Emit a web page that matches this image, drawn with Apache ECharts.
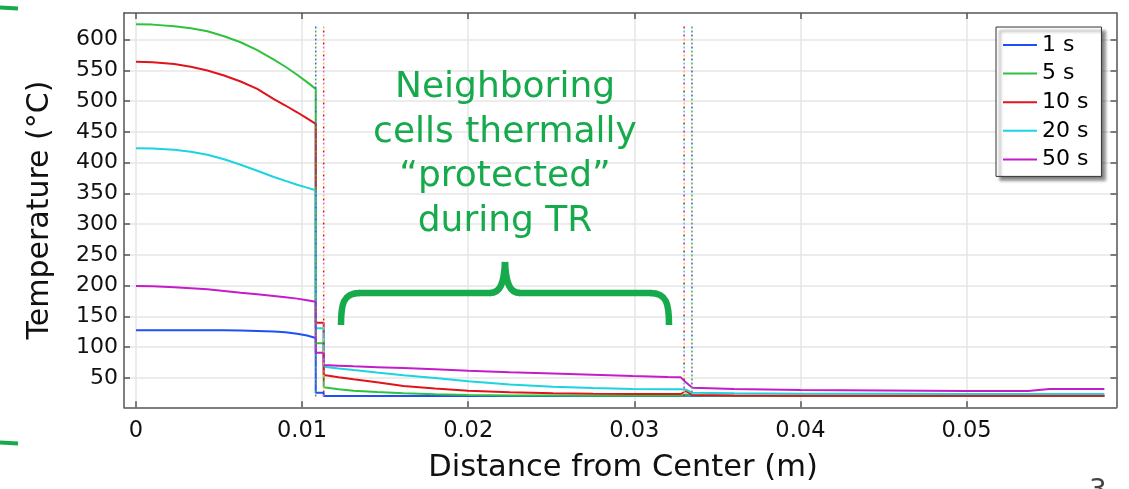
<!DOCTYPE html>
<html>
<head>
<meta charset="utf-8">
<script src="https://cdn.jsdelivr.net/npm/echarts@6/dist/echarts.min.js"></script>
<style>
html,body{margin:0;padding:0;background:#fff;}
#c{width:1129px;height:489px;}
</style>
</head>
<body>
<div id="c"></div>
<script>
// ---- data ----
const xs = [0, 0.001, 0.0023, 0.0033, 0.0043, 0.0053, 0.0063, 0.0073, 0.0083, 0.009, 0.0097, 0.0103, 0.01082,
  0.01082, 0.0113,
  0.0113, 0.0122, 0.0131, 0.0145, 0.0161, 0.018, 0.02, 0.0225, 0.0251, 0.0275, 0.0299, 0.032, 0.0328,
  0.0331, 0.0332, 0.0335, 0.036, 0.04, 0.045, 0.05, 0.0537, 0.055, 0.0583];

const t1s = [127.6, 127.6, 127.6, 127.6, 127.6, 127.5, 127.2, 126.5, 125.5, 124.2, 122, 119, 115.1,
  26, 26,
  20.6, 20.6, 20.6, 20.6, 20.6, 20.6, 20.6, 20.6, 20.6, 20.6, 20.6, 20.6, 20.6,
  21.5, 21.2, 20.6, 20.6, 20.6, 20.6, 20.6, 20.6, 20.6, 20.6];

const t5s = [625, 624.5, 621.8, 618.5, 613.6, 605.5, 595.8, 583, 567.5, 556, 543, 531, 520,
  106.3, 106.3,
  34.8, 31.8, 29.3, 27, 25, 23.4, 22.2, 21.6, 21.3, 21.1, 21.1, 21.1, 21.1,
  23, 22.2, 21.5, 21.2, 21.1, 21.1, 21.1, 21.1, 21.1, 21.1];

const t10s = [564, 563.3, 560.4, 556, 550, 541.8, 532, 520, 503.5, 493, 482, 472, 463,
  139.8, 139.8,
  54.8, 51.2, 47.8, 43, 36.9, 32.8, 29.3, 26.8, 25, 24.3, 23.9, 23.9, 23.9,
  28.8, 27.5, 22.2, 21.5, 21.2, 21.1, 21.1, 21.1, 21.1, 21.1];

const t20s = [423.4, 423, 421.1, 417.8, 413, 405.5, 396.7, 387, 376.7, 370.5, 364.2, 359.5, 355.1,
  130.7, 130.7,
  68.3, 65.5, 62.8, 58.8, 54.5, 50, 44.5, 39.5, 35.8, 33.5, 32.2, 31.6, 31.5,
  31, 29, 26, 25, 24.5, 24.2, 24, 24, 24, 24];

const t50s = [199.5, 199.2, 197.4, 196, 194.1, 191.5, 188.6, 186, 183.3, 181.2, 179, 176.5, 174,
  91.1, 91.1,
  71, 70, 69, 67.6, 66, 64, 61.8, 59.4, 57.2, 55.2, 53.2, 51.6, 51,
  43, 42.5, 34.2, 32, 30.4, 29.5, 28.8, 28.8, 32, 32];

const seriesNames = ['1 s', '5 s', '10 s', '20 s', '50 s'];
const seriesValues = [t1s, t5s, t10s, t20s, t50s];
const seriesColors = ['#1f4ff5', '#2fc23f', '#e0141a', '#1ad4e0', '#c41cc8'];

// dotted interface lines
const dotX = [0.01082, 0.0113, 0.0330, 0.03347];
const dotRange = [20, 624];
const dotColors = [
  ['#7a7a7a', '#3a5ef0', '#2fc23f'],
  ['#e060e0', '#e8c030', '#e0141a'],
  ['#e0141a', '#1ad4e0', '#c41cc8', '#e8c030'],
  ['#3a5ef0', '#2fc23f', '#7a7a7a']
];

const xTicks = [0, 0.01, 0.02, 0.03, 0.04, 0.05];
const yTicks = [50, 100, 150, 200, 250, 300, 350, 400, 450, 500, 550, 600];
const xRange = [-0.000722, 0.05903];
const yRange = [2.3, 643.4];

const annotLines = ['Neighboring', 'cells thermally', '\u201Cprotected\u201D', 'during TR'];
const xTitle = 'Distance from Center (m)';
const yTitle = 'Temperature (\u00B0C)';

// ---- chart ----
const chart = echarts.init(document.getElementById('c'), null, {renderer: 'canvas'});
const green = '#16aa4c';
const axisCol = '#555';
const font = 'DejaVu Sans';

const series = seriesNames.map((n, k) => ({
  name: n, type: 'line', xAxisIndex: 0, yAxisIndex: 0,
  data: xs.map((x, i) => [x, seriesValues[k][i]]),
  symbol: 'none', showSymbol: false,
  lineStyle: {color: seriesColors[k], width: 2},
  itemStyle: {color: seriesColors[k]},
  z: 3 + k
}));
dotX.forEach((x, j) => {
  const cols = dotColors[j];
  cols.forEach((c, m) => {
    series.push({
      type: 'line', xAxisIndex: 0, yAxisIndex: 0, silent: true,
      data: [[x, dotRange[0]], [x, dotRange[1]]],
      symbol: 'none',
      lineStyle: {color: c, width: 1.5, type: [2, 4 * cols.length - 2], dashOffset: m * 4},
      z: 10
    });
  });
});

const annotGraphics = annotLines.map((t, i) => ({
  type: 'text', x: 505, y: 88 + i * 44.4,
  style: {text: t, fill: green, font: '36px "DejaVu Sans"', textAlign: 'center', textVerticalAlign: 'middle'},
  z: 20
}));

const braceStyle = {stroke: green, lineWidth: 6.5, fill: null};
const braceGraphics = [
  {type: 'bezierCurve', shape: {x1: 341, y1: 325, cpx1: 341, cpy1: 304, cpx2: 343, cpy2: 293, x2: 360, y2: 293}, style: braceStyle, z: 20},
  {type: 'line', shape: {x1: 359, y1: 293, x2: 491, y2: 293}, style: braceStyle, z: 20},
  {type: 'bezierCurve', shape: {x1: 490, y1: 293, cpx1: 500, cpy1: 293, cpx2: 504, cpy2: 284, x2: 505, y2: 262}, style: braceStyle, z: 20},
  {type: 'bezierCurve', shape: {x1: 520, y1: 293, cpx1: 510, cpy1: 293, cpx2: 506, cpy2: 284, x2: 505, y2: 262}, style: braceStyle, z: 20},
  {type: 'line', shape: {x1: 519, y1: 293, x2: 651, y2: 293}, style: braceStyle, z: 20},
  {type: 'bezierCurve', shape: {x1: 669, y1: 325, cpx1: 669, cpy1: 304, cpx2: 667, cpy2: 293, x2: 650, y2: 293}, style: braceStyle, z: 20}
];

chart.setOption({
  animation: false,
  backgroundColor: '#fff',
  grid: {left: 124, right: 12.5, top: 13, bottom: 81.7, show: false},
  legend: {
    data: seriesNames, orient: 'vertical', left: 996, top: 27,
    padding: [7, 13, 6, 7], itemWidth: 34, itemHeight: 2, itemGap: 6.6, icon: 'rect',
    backgroundColor: '#fff', borderColor: '#333', borderWidth: 1,
    shadowColor: 'rgba(0,0,0,0.55)', shadowBlur: 3, shadowOffsetX: 4, shadowOffsetY: 4,
    textStyle: {fontFamily: font, fontSize: 22, color: '#000', lineHeight: 22},
    selectedMode: false
  },
  xAxis: [{
    type: 'value', position: 'bottom', min: xRange[0], max: xRange[1],
    axisLine: {show: true, onZero: false, lineStyle: {color: axisCol, width: 1.5}},
    axisTick: {show: true, inside: true, length: 6, customValues: xTicks, lineStyle: {color: axisCol, width: 1.5}},
    axisLabel: {customValues: xTicks, margin: 12, fontFamily: font, fontSize: 22.5, color: '#111',
      formatter: v => (v === 0 ? '0' : v.toFixed(2))},
    splitLine: {show: true, lineStyle: {color: '#e6e6e6', width: 1.5}}
  }, {
    type: 'value', position: 'top', min: xRange[0], max: xRange[1],
    axisLine: {show: true, onZero: false, lineStyle: {color: axisCol, width: 1.5}},
    axisTick: {show: true, inside: true, length: 6, customValues: xTicks, lineStyle: {color: axisCol, width: 1.5}},
    axisLabel: {show: false}, splitLine: {show: false}
  }],
  yAxis: [{
    type: 'value', position: 'left', min: yRange[0], max: yRange[1],
    axisLine: {show: true, onZero: false, lineStyle: {color: axisCol, width: 1.5}},
    axisTick: {show: true, inside: true, length: 6, customValues: yTicks, lineStyle: {color: axisCol, width: 1.5}},
    axisLabel: {customValues: yTicks, margin: 6, fontFamily: font, fontSize: 22, color: '#111'},
    splitLine: {show: true, lineStyle: {color: '#e6e6e6', width: 1.5}}
  }, {
    type: 'value', position: 'right', min: yRange[0], max: yRange[1],
    axisLine: {show: true, onZero: false, lineStyle: {color: axisCol, width: 1.5}},
    axisTick: {show: true, inside: true, length: 6, customValues: yTicks, lineStyle: {color: axisCol, width: 1.5}},
    axisLabel: {show: false}, splitLine: {show: false}
  }],
  series: series,
  graphic: [
    {type: 'text', x: 623, y: 468, style: {text: xTitle, font: '30.5px "DejaVu Sans"', fill: '#111', textAlign: 'center', textVerticalAlign: 'middle'}},
    {type: 'text', x: 40, y: 210, rotation: Math.PI / 2, style: {text: yTitle, font: '30px "DejaVu Sans"', fill: '#111', textAlign: 'center', textVerticalAlign: 'middle'}},
    {type: 'line', shape: {x1: 0, y1: 7.5, x2: 18, y2: 8.5}, style: {stroke: green, lineWidth: 4}},
    {type: 'line', shape: {x1: 0, y1: 442.5, x2: 18, y2: 443.5}, style: {stroke: green, lineWidth: 4}},
    {type: 'text', x: 1098, y: 478, style: {text: '3', font: '28px "DejaVu Sans"', fill: '#444', textAlign: 'center', textVerticalAlign: 'top'}}
  ].concat(braceGraphics, annotGraphics)
});
</script>
</body>
</html>
